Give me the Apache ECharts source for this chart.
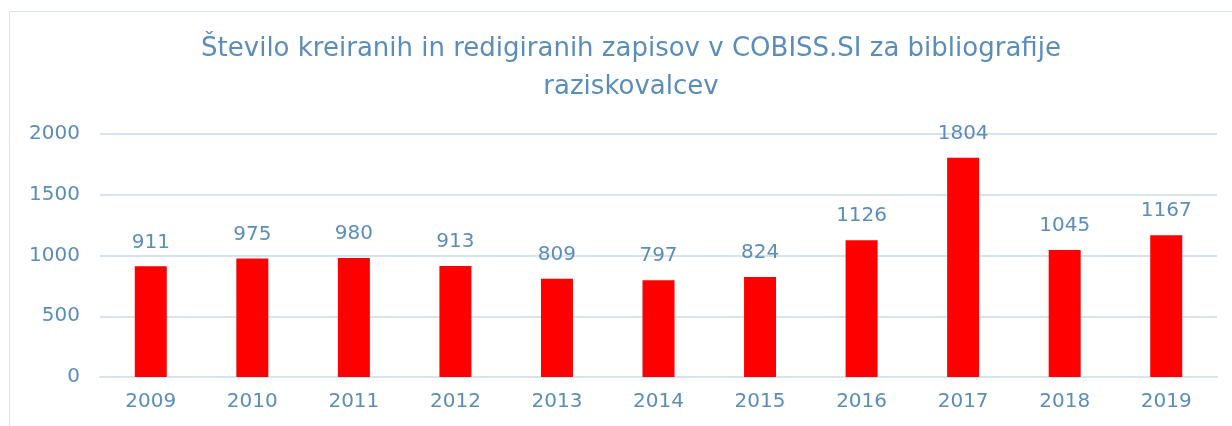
<!DOCTYPE html>
<html>
<head>
<meta charset="utf-8">
<script src="https://cdn.jsdelivr.net/npm/echarts@6/dist/echarts.min.js"></script>
<style>
  html, body { margin: 0; padding: 0; background: #fff; }
  #chart { width: 1232px; height: 426px; }
</style>
</head>
<body>
<div id="chart"></div>
<script>
const years = ['2009', '2010', '2011', '2012', '2013', '2014', '2015', '2016', '2017', '2018', '2019'];
const records = [911, 975, 980, 913, 809, 797, 824, 1126, 1804, 1045, 1167];
const yTicks = [0, 500, 1000, 1500, 2000];

const textColor = '#5b8dba';
const lineColor = '#d9e3ee';
const font = 'DejaVu Sans';

const chart = echarts.init(document.getElementById('chart'));

chart.setOption({
  animation: false,
  graphic: [{
    type: 'rect',
    shape: { x: 9.5, y: 11.5, width: 1300, height: 500 },
    style: { fill: 'none', stroke: '#dbe4ee', lineWidth: 1 },
    silent: true
  }],
  title: {
    text: 'Število kreiranih in redigiranih zapisov v COBISS.SI za bibliografije\nraziskovalcev',
    left: 626,
    textAlign: 'center',
    top: 25,
    textStyle: {
      fontFamily: font,
      fontSize: 26,
      fontWeight: 'normal',
      color: textColor,
      lineHeight: 38
    }
  },
  grid: {
    left: 100,
    right: 15,
    top: 134,
    bottom: 49
  },
  xAxis: {
    type: 'category',
    data: years,
    axisLine: { lineStyle: { color: lineColor, width: 2 } },
    axisTick: { show: false },
    axisLabel: {
      color: textColor,
      fontFamily: font,
      fontSize: 20,
      margin: 15
    }
  },
  yAxis: {
    type: 'value',
    min: yTicks[0],
    max: yTicks[yTicks.length - 1],
    interval: 500,
    axisLine: { show: false },
    axisTick: { show: false },
    splitLine: { lineStyle: { color: lineColor, width: 2 } },
    axisLabel: {
      color: textColor,
      fontFamily: font,
      fontSize: 20,
      margin: 20,
      formatter: (v) => String(v)
    }
  },
  series: [{
    type: 'bar',
    data: records,
    barWidth: 32,
    itemStyle: { color: '#ff0000' },
    label: {
      show: true,
      position: 'top',
      distance: 14,
      color: textColor,
      fontFamily: font,
      fontSize: 20
    }
  }]
});
</script>
</body>
</html>
